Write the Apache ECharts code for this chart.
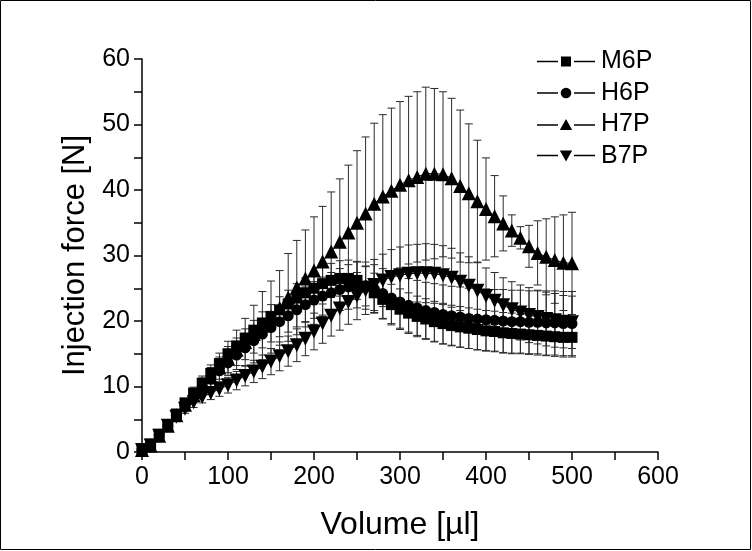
<!DOCTYPE html>
<html>
<head>
<meta charset="utf-8">
<script src="https://cdn.jsdelivr.net/npm/echarts@6/dist/echarts.min.js"></script>
<style>html,body{margin:0;padding:0;background:#fff}#c{width:752px;height:551px}</style>
</head>
<body>
<div id="c"></div>
<script>
// Volume values (µl)
const volume = [0,10,20,30,40,50,60,70,80,90,100,110,120,130,140,150,160,170,180,190,200,210,220,230,240,250,260,270,280,290,300,310,320,330,340,350,360,370,380,390,400,410,420,430,440,450,460,470,480,490,500];

// Mean injection force (N)
const m6p = [0.3,1.2,2.7,4.0,5.8,7.5,9.0,10.5,12.0,13.5,15.0,16.2,17.4,18.6,19.7,20.7,21.7,22.6,23.5,24.3,25.0,25.7,26.2,26.5,26.5,26.2,25.3,24.3,23.3,22.5,21.8,21.2,20.7,20.3,19.9,19.6,19.3,19.1,18.9,18.7,18.5,18.4,18.2,18.1,18.0,17.9,17.8,17.7,17.6,17.5,17.5];
const h6p = [0.3,1.2,2.6,4.0,5.6,7.1,8.5,9.8,11.1,12.4,13.6,14.8,15.9,17.0,18.0,19.0,19.9,20.8,21.7,22.5,23.2,23.8,24.3,24.8,25.2,25.5,25.4,24.9,24.2,23.5,22.9,22.4,22.0,21.6,21.3,21.0,20.8,20.6,20.4,20.3,20.2,20.1,20.0,19.9,19.9,19.8,19.8,19.7,19.7,19.6,19.6];
const h7p = [0.3,1.0,2.5,4.0,5.6,7.2,8.7,10.1,11.5,12.9,14.3,15.6,16.8,18.0,19.3,20.6,22.0,23.6,25.1,26.5,27.7,29.1,30.6,32.1,33.5,35.0,36.4,37.9,39.0,39.9,40.8,41.5,42.0,42.5,42.5,42.4,41.8,40.6,39.5,38.3,37.1,36.0,34.9,33.8,32.7,31.4,30.4,29.8,29.3,28.9,28.8];
const b7p = [0.3,1.0,2.5,4.0,5.4,6.6,7.6,8.4,9.0,9.6,10.2,10.9,11.6,12.3,13.0,13.8,14.6,15.4,16.3,17.3,18.4,19.6,20.8,21.9,22.9,23.8,24.7,25.5,26.2,26.7,27.0,27.2,27.3,27.3,27.2,27.0,26.6,26.0,25.4,24.6,23.8,23.1,22.4,21.8,21.3,20.9,20.6,20.3,20.1,19.9,19.8];

// Standard deviations (N)
const m6pSd = [0.1,0.2,0.3,0.4,0.5,0.6,0.7,0.8,0.9,1.0,1.1,1.2,1.4,1.5,1.7,1.8,2.0,2.1,2.2,2.3,2.4,2.5,2.6,2.7,2.8,2.9,3.0,3.0,3.0,3.1,3.1,3.1,3.1,3.1,3.1,3.1,3.1,3.1,3.1,3.1,3.1,3.1,3.1,3.1,3.0,3.0,3.0,3.0,3.0,3.0,3.0];
const h6pSd = [0.1,0.2,0.4,0.5,0.7,0.8,0.9,1.0,1.2,1.3,1.5,1.6,1.8,1.9,2.1,2.2,2.3,2.5,2.6,2.7,2.8,2.9,3.1,3.2,3.4,3.5,3.6,3.7,3.8,3.9,4.0,4.1,4.2,4.3,4.4,4.5,4.5,4.6,4.6,4.7,4.7,4.7,4.8,4.8,4.8,4.8,4.8,4.9,4.9,4.9,4.9];
const h7pSd = [0.1,0.2,0.3,0.5,0.7,0.9,1.2,1.5,1.8,2.2,2.6,3.0,3.6,4.4,5.2,5.5,5.7,6.7,7.2,7.4,8.2,8.4,9.1,9.6,10.3,11.0,11.7,12.3,12.5,12.6,12.7,12.8,13.0,13.2,13.0,12.6,12.2,11.6,10.6,9.3,7.8,6.2,4.2,2.4,1.7,3.2,4.9,5.8,6.6,7.3,7.8];
const b7pSd = [0.1,0.2,0.3,0.4,0.6,0.7,0.8,0.9,1.0,1.1,1.2,1.4,1.5,1.7,1.8,2.0,2.2,2.3,2.5,2.6,2.8,3.0,3.1,3.3,3.4,3.6,3.7,3.9,4.0,4.2,4.3,4.4,4.4,4.5,4.5,4.5,4.5,4.4,4.4,4.3,4.3,4.3,4.2,4.2,4.2,4.2,4.1,4.1,4.1,4.0,4.0];

// Axis ticks
const xTicks = {min: 0, max: 600, interval: 100};
const yTicks = {min: 0, max: 60, interval: 10};

const FONT = '"Liberation Sans", Arial, sans-serif';

function meanData(vals) { return volume.map((x, i) => [x, vals[i]]); }
function errData(vals, sd) { return volume.map((x, i) => [x, vals[i] - sd[i], vals[i] + sd[i]]); }

function renderErr(params, api) {
  const x = api.value(0), lo = api.value(1), hi = api.value(2);
  const a = api.coord([x, lo]), b = api.coord([x, hi]);
  const w = 4;
  const st = {stroke: '#2a2a2a', lineWidth: 1};
  return {type: 'group', children: [
    {type: 'line', shape: {x1: a[0], y1: a[1], x2: b[0], y2: b[1]}, style: st},
    {type: 'line', shape: {x1: a[0] - w, y1: a[1], x2: a[0] + w, y2: a[1]}, style: st},
    {type: 'line', shape: {x1: b[0] - w, y1: b[1], x2: b[0] + w, y2: b[1]}, style: st}
  ]};
}

// legend icons: line — symbol — line (58 x 13 box)
const LINES = 'M0,5.8H21V7.2H0Z M37,5.8H58V7.2H37Z ';
const icons = {
  rect: 'path://' + LINES + 'M24,1.5H34V11.5H24Z',
  circle: 'path://' + LINES + 'M29,1.2A5.3,5.3 0 1 1 28.99,1.2Z',
  up: 'path://' + LINES + 'M29,0.5L35.2,11.5H22.8Z',
  down: 'path://' + LINES + 'M22.8,1.5H35.2L29,12.5Z'
};

const defs = [
  {name: 'M6P', vals: m6p, sd: m6pSd, symbol: 'rect', size: 11, rot: 0, icon: icons.rect},
  {name: 'H6P', vals: h6p, sd: h6pSd, symbol: 'circle', size: 11, rot: 0, icon: icons.circle},
  {name: 'H7P', vals: h7p, sd: h7pSd, symbol: 'triangle', size: 14, rot: 0, icon: icons.up},
  {name: 'B7P', vals: b7p, sd: b7pSd, symbol: 'triangle', size: 14, rot: 180, icon: icons.down}
];

const series = [];
defs.forEach(d => {
  series.push({
    type: 'custom', name: d.name + ' SD', renderItem: renderErr,
    data: errData(d.vals, d.sd), encode: {x: 0, y: [1, 2]}, z: 1, silent: true
  });
});
defs.forEach(d => {
  series.push({
    type: 'line', name: d.name, data: meanData(d.vals),
    symbol: d.symbol, symbolSize: d.size, symbolRotate: d.rot, showAllSymbol: true,
    itemStyle: {color: '#000'}, lineStyle: {color: '#000', width: 1}, z: 3
  });
});

const chart = echarts.init(document.getElementById('c'), null, {renderer: 'canvas'});
chart.setOption({
  animation: false,
  backgroundColor: '#fff',
  grid: {left: 142, top: 59, width: 516, height: 393, containLabel: false},
  legend: {
    data: defs.map(d => ({name: d.name, icon: d.icon})),
    orient: 'vertical', left: 532, top: 44, padding: 5,
    itemWidth: 58, itemHeight: 13, itemGap: 6.5,
    itemStyle: {color: '#000', borderWidth: 0},
    textStyle: {fontFamily: FONT, fontSize: 25, color: '#000', lineHeight: 25, padding: [0, 0, 0, 1]},
    selectedMode: false
  },
  xAxis: {
    type: 'value', min: xTicks.min, max: xTicks.max, interval: xTicks.interval,
    name: 'Volume [µl]', nameLocation: 'middle', nameGap: 57,
    nameTextStyle: {fontFamily: FONT, fontSize: 32, color: '#000'},
    axisLine: {show: true, onZero: false, lineStyle: {color: '#000', width: 1.5}},
    axisTick: {show: true, inside: false, length: 8, lineStyle: {color: '#000', width: 1.5}},
    minorTick: {show: true, splitNumber: 2, length: 8, lineStyle: {color: '#000', width: 1.5}},
    axisLabel: {fontFamily: FONT, fontSize: 25, color: '#000', margin: 13},
    splitLine: {show: false}
  },
  yAxis: {
    type: 'value', min: yTicks.min, max: yTicks.max, interval: yTicks.interval,
    name: 'Injection force [N]', nameLocation: 'middle', nameGap: 51,
    nameTextStyle: {fontFamily: FONT, fontSize: 31, color: '#000'},
    axisLine: {show: true, onZero: false, lineStyle: {color: '#000', width: 1.5}},
    axisTick: {show: true, inside: false, length: 8, lineStyle: {color: '#000', width: 1.5}},
    minorTick: {show: true, splitNumber: 2, length: 8, lineStyle: {color: '#000', width: 1.5}},
    axisLabel: {fontFamily: FONT, fontSize: 25, color: '#000', margin: 12},
    splitLine: {show: false}
  },
  graphic: [{
    type: 'rect', shape: {x: 0.5, y: 0.5, width: 750, height: 549},
    style: {fill: 'none', stroke: '#000', lineWidth: 1}, silent: true, z: 100
  }],
  series: series
});
</script>
</body>
</html>
